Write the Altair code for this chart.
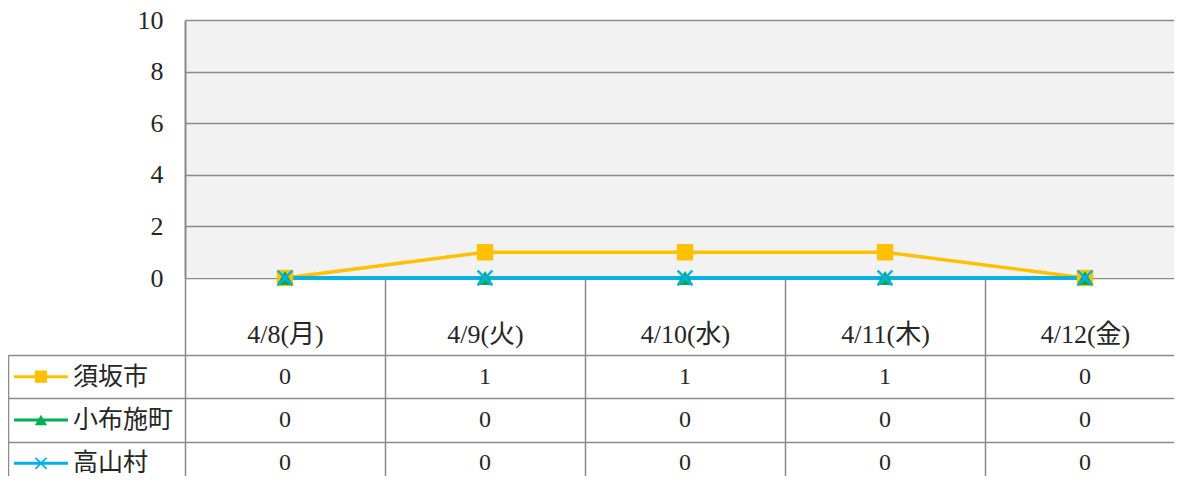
import altair as alt
import pandas as pd

# ---- data ----
dates = ["4/8(月)", "4/9(火)", "4/10(水)", "4/11(木)", "4/12(金)"]
series = ["須坂市", "小布施町", "高山村"]
suzaka = [0, 1, 1, 1, 0]
obuse = [0, 0, 0, 0, 0]
takayama = [0, 0, 0, 0, 0]
y_ticks = [0, 2, 4, 6, 8, 10]

colors = ["#FFC000", "#00B050", "#00B0F0"]
X_PATH = "M-0.8,-1L0,-0.2L0.8,-1L1,-0.8L0.2,0L1,0.8L0.8,1L0,0.2L-0.8,1L-1,0.8L-0.2,0L-1,-0.8Z"
shapes = ["square", "triangle-up", X_PATH]

rows = []
for s, vals in zip(series, [suzaka, obuse, takayama]):
    for d, v in zip(dates, vals):
        rows.append({"date": d, "series": s, "value": v})
df = pd.DataFrame(rows)
sdf = pd.DataFrame({"series": series})
bgdf = pd.DataFrame({"date": dates})

# ---- layout (pixels inside the view) ----
PAD_T = 6
W, H = 1166, 468 - PAD_T
PLOT_L, PLOT_R = 177, 1177
PLOT_T, PLOT_B = 12 - PAD_T, 270 - PAD_T
TABLE_T, TABLE_B = 347 - PAD_T, 477 - PAD_T
FONT = "Liberation Serif, Noto Sans CJK JP, serif"
GRID = "#8a8a8a"
TXT = "#262626"

xs = alt.Scale(domain=dates, range=[PLOT_L, PLOT_R], paddingInner=0, paddingOuter=0)
ys = alt.Scale(domain=[0, 10], range=[PLOT_B, PLOT_T], nice=False, zero=False)
rs = alt.Scale(domain=series, range=[TABLE_T, TABLE_B], paddingInner=0, paddingOuter=0)
cs = alt.Scale(domain=series, range=colors)
ss = alt.Scale(domain=series, range=shapes)
ls = alt.Scale(domain=[0, 1], range=[6, 60])

background = alt.Chart(bgdf).mark_rect(fill="#f2f2f2").encode(
    x=alt.X("date:N", scale=xs, sort=dates, axis=None),
    y=alt.Y(datum=0, type="quantitative", scale=ys, axis=None),
    y2=alt.Y2(datum=10),
)

lines = alt.Chart(df).mark_line(strokeWidth=3.5).encode(
    x=alt.X(
        "date:N", scale=xs, sort=dates, title=None,
        axis=alt.Axis(
            orient="bottom", offset=-(H - PLOT_B), tickBand="extent",
            tickSize=TABLE_B - PLOT_B, tickColor=GRID, tickWidth=1.5,
            domainColor=GRID, domainWidth=1.5, labelAngle=0,
            labelPadding=(PLOT_B + 56) - TABLE_B, labelBaseline="middle",
            labelFont=FONT, labelFontSize=26, labelColor=TXT, zindex=0,
        ),
    ),
    y=alt.Y(
        "value:Q", scale=ys, title=None,
        axis=alt.Axis(
            orient="left", offset=-PLOT_L, values=y_ticks, ticks=False,
            labelPadding=22, labelFont=FONT, labelFontSize=26, labelColor=TXT,
            domainColor=GRID, domainWidth=2, grid=True, gridColor=GRID,
            gridWidth=1.5,
            gridOpacity={"condition": {"test": "datum.value === 0", "value": 0}, "value": 1},
            zindex=1,
        ),
    ),
    color=alt.Color("series:N", scale=cs, legend=None),
)

points = alt.Chart(df).mark_point(filled=True, size=270, opacity=1).encode(
    x=alt.X("date:N", scale=xs, sort=dates, axis=None),
    y=alt.Y("value:Q", scale=ys, axis=None),
    color=alt.Color("series:N", scale=cs, legend=None),
    shape=alt.Shape("series:N", scale=ss, legend=None),
)

table = alt.Chart(df).mark_text(fontSize=24, font=FONT, color=TXT, baseline="middle").encode(
    x=alt.X("date:N", scale=xs, sort=dates, axis=None),
    y=alt.Y(
        "series:N", scale=rs, sort=series, title=None,
        axis=alt.Axis(
            orient="right", offset=-W, tickBand="extent", tickSize=PLOT_R,
            tickColor=GRID, tickWidth=1.5, domainColor=GRID, domainWidth=1.5,
            labels=False,
        ),
    ),
    text=alt.Text("value:Q"),
)

key_line = alt.Chart(sdf).mark_rule(strokeWidth=3).encode(
    x=alt.X(datum=0, type="quantitative", scale=ls, axis=None),
    x2=alt.X2(datum=1),
    y=alt.Y("series:N", scale=rs, sort=series, axis=None),
    color=alt.Color("series:N", scale=cs, legend=None),
)
key_point = alt.Chart(sdf).mark_point(filled=True, size=150, opacity=1).encode(
    x=alt.X(datum=0.5, type="quantitative", scale=ls, axis=None),
    y=alt.Y("series:N", scale=rs, sort=series, axis=None),
    color=alt.Color("series:N", scale=cs, legend=None),
    shape=alt.Shape("series:N", scale=ss, legend=None),
)
key_text = alt.Chart(sdf).mark_text(
    align="left", baseline="middle", dx=5, fontSize=25, font=FONT, color=TXT
).encode(
    x=alt.X(datum=1, type="quantitative", scale=ls, axis=None),
    y=alt.Y("series:N", scale=rs, sort=series, axis=None),
    text="series:N",
)

chart = (
    alt.layer(background, lines, points, table, key_line, key_point, key_text)
    .resolve_scale(x="independent", y="independent")
    .properties(
        width=W, height=H, autosize=alt.AutoSizeParams(type="none"),
        padding={"left": 0, "top": PAD_T, "right": 0, "bottom": 0},
    )
    .configure_view(stroke=None)
)

chart.save("out.html", embed_options={"renderer": "svg", "actions": False})
